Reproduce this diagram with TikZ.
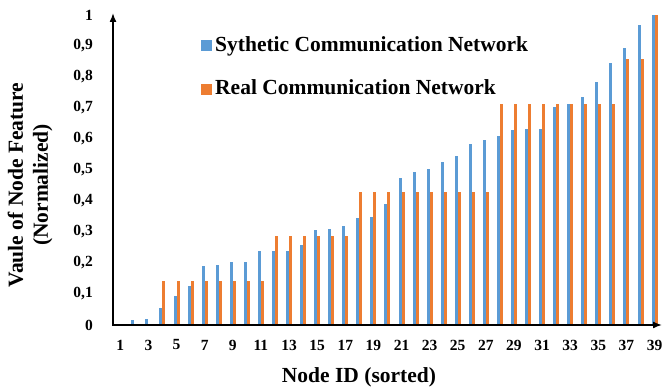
\documentclass[tikz,border=0pt]{standalone}
\usepackage{fontspec}
\setmainfont{Liberation Serif}
\usetikzlibrary{arrows.meta}
\definecolor{synblue}{HTML}{5B9BD5}
\definecolor{realorange}{HTML}{ED7D31}
\begin{document}
\begin{tikzpicture}[x=1pt,y=1pt]
          \tikzstyle{axis}=[draw, line width=1.5pt, {Latex[length=9pt,width=7pt]}-{Latex[length=9pt,width=7pt]}]
          \tikzstyle{ticklabel}=[font=\bfseries\fontsize{15.5}{16}\selectfont, inner sep=0pt]
          \tikzstyle{title}=[font=\bfseries\fontsize{21.5}{25}\selectfont, inner sep=0pt, align=center]
          \tikzstyle{key}=[inner sep=0pt, minimum size=11pt]
          \useasboundingbox (0,0) rectangle (664,390);
          \begin{scope}
             % bars, one pair per node
             \foreach \v [count=\i] in {0,0.015,0.02,0.056,0.094,0.127,0.19,0.194,0.202,0.202,
                   0.239,0.239,0.239,0.258,0.306,0.311,0.319,0.344,0.349,0.389,
                   0.475,0.493,0.503,0.526,0.544,0.583,0.597,0.609,0.628,0.631,
                   0.633,0.704,0.714,0.736,0.785,0.844,0.893,0.968,1}
                \fill[synblue] ({117.3+14.06*(\i-1)},65) rectangle ++(3,{310*\v});
             \foreach \v [count=\i] in {0,0,0,1,1,1,1,1,1,1,1,2,2,2,2,2,2,3,3,3,
                   3,3,3,3,3,3,3,5,5,5,5,5,5,5,5,5,6,6,7}
                \fill[realorange] ({120.3+14.06*(\i-1)},65) rectangle ++(3,{310*\v/7});
             % axes
             \coordinate (origin) at (113,65);
             \coordinate (ytop) at (113,377);
             \coordinate (xend) at (662,65);
             \path[axis] (ytop) -- (origin) -- (xend);
             % tick labels
             \node [ticklabel, anchor=east] (y0) at (93,65) {0};
             \foreach \t in {1,...,9}
                \node [ticklabel, anchor=east] (y\t) at (93,{65+31*\t}) {0,\t};
             \node [ticklabel, anchor=east] (y10) at (93,375) {1};
             \foreach \i in {1,3,...,39}
                \node [ticklabel] (x\i) at ({120.3+14.06*(\i-1)},45) {\i};
             % titles
             \node [title] (xtitle) at (359,13) {Node ID (sorted)};
             \node [title, rotate=90] (ytitle) at (30,205) {Vaule of Node Feature\\(Normalized)};
             % legend
             \node [key, fill=synblue] (synkey) at (206,344) {};
             \node [title, anchor=base west] (synlabel) at (215,338) {Sythetic Communication Network};
             \node [key, fill=realorange] (realkey) at (206,300.5) {};
             \node [title, anchor=base west] (reallabel) at (215,295) {Real Communication Network};
          \end{scope}
        \end{tikzpicture}
\end{document}
